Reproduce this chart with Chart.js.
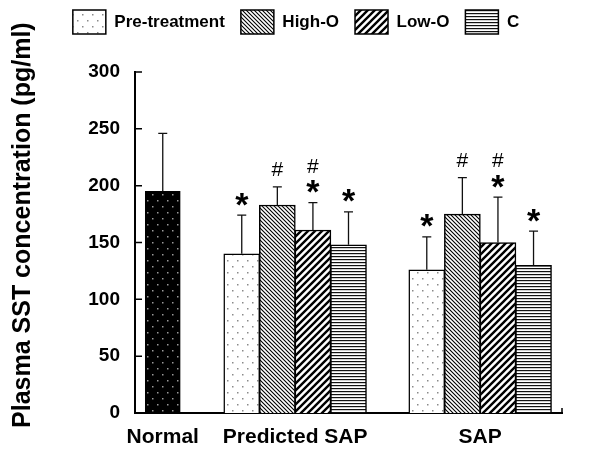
<!DOCTYPE html>
<html>
<head>
<meta charset="utf-8">
<script src="https://cdn.jsdelivr.net/npm/chart.js@4.4.1/dist/chart.umd.min.js"></script>
<style>
  html, body { margin: 0; padding: 0; background: #fff; }
</style>
</head>
<body>
<canvas id="sstChart" width="590" height="449"></canvas>
<script>
// groups on the x axis and where they sit on the (linear) x scale
const groupLabels = ['Normal', 'Predicted SAP', 'SAP'];
const groupPos = [0.78, 4.5, 9.7];

// Normal control
const normalMean = [195];
const normalSd = [51];

// treatment series, values for [Predicted SAP, SAP]
const seriesNames = ['Pre-treatment', 'High-O', 'Low-O', 'C'];
const meanPre = [140, 126];
const sdPre = [34, 29];
const meanHigh = [183, 175];
const sdHigh = [16, 32];
const meanLow = [161, 150];
const sdLow = [24, 40];
const meanC = [148, 130];
const sdC = [29, 30];

// significance marks ( * and # ) per series, per group
const starPre = [true, true];
const hashPre = [false, false];
const starHigh = [false, false];
const hashHigh = [true, true];
const starLow = [true, true];
const hashLow = [true, true];
const starC = [true, true];
const hashC = [false, false];

const yTicks = [0, 50, 100, 150, 200, 250, 300];

const canvas = document.getElementById('sstChart');
const ctx = canvas.getContext('2d');

// fill patterns
function makePattern(w, h, bg, paint) {
    const c = document.createElement('canvas');
    c.width = w;
    c.height = h;
    const g = c.getContext('2d');
    g.fillStyle = bg;
    g.fillRect(0, 0, w, h);
    paint(g);
    return ctx.createPattern(c, 'repeat');
}

const dotsDark = makePattern(10, 12, '#000', g => {
    g.fillStyle = '#9a9a9a';
    g.fillRect(2, 2, 1.5, 1.5);
    g.fillRect(7, 8, 1.5, 1.5);
});
const dotsLight = makePattern(10, 12, '#fff', g => {
    g.fillStyle = '#8a8a8a';
    g.fillRect(2, 2, 1.5, 1.5);
    g.fillRect(7, 8, 1.5, 1.5);
});
const backHatch = makePattern(4, 4, '#fff', g => {
    g.strokeStyle = '#000';
    g.lineWidth = 1.1;
    g.beginPath();
    g.moveTo(-1, -1); g.lineTo(5, 5);
    g.moveTo(-1, 3); g.lineTo(1, 5);
    g.moveTo(3, -1); g.lineTo(5, 1);
    g.stroke();
});
const fwdHatch = makePattern(7, 7, '#fff', g => {
    g.strokeStyle = '#000';
    g.lineWidth = 2.4;
    g.beginPath();
    g.moveTo(-1, 8); g.lineTo(8, -1);
    g.moveTo(-1, 1); g.lineTo(1, -1);
    g.moveTo(6, 8); g.lineTo(8, 6);
    g.stroke();
});
const horizLines = makePattern(4, 3, '#fff', g => {
    g.fillStyle = '#111';
    g.fillRect(0, 1, 4, 1.2);
});

const seriesMeans = [meanPre, meanHigh, meanLow, meanC];
const seriesSds = [sdPre, sdHigh, sdLow, sdC];
const seriesStars = [starPre, starHigh, starLow, starC];
const seriesHashes = [hashPre, hashHigh, hashLow, hashC];
const seriesFills = [dotsLight, backHatch, fwdHatch, horizLines];

// bar x = group centre, shifted by the series slot
function barX(groupIdx, seriesIdx) {
    return groupPos[groupIdx] - 1.5 + seriesIdx;
}

const datasets = [{
    label: 'Normal',
    data: normalMean.map(v => ({x: groupPos[0], y: v})),
    sd: normalSd,
    stars: [false],
    hashes: [false],
    backgroundColor: dotsDark,
    borderColor: '#000',
    borderWidth: 1.5,
    barThickness: 35
}];
seriesNames.forEach((name, s) => {
    datasets.push({
        label: name,
        data: seriesMeans[s].map((v, g) => ({x: barX(g + 1, s), y: v})),
        sd: seriesSds[s],
        stars: seriesStars[s],
        hashes: seriesHashes[s],
        backgroundColor: seriesFills[s],
        borderColor: '#000',
        borderWidth: 1.5,
        barThickness: 36
    });
});

// extra room under the legend, and centre it over the whole canvas
const legendGap = {
    id: 'legendGap',
    beforeInit(chart) {
        const fit = chart.legend.fit;
        chart.legend.fit = function () {
            fit.bind(chart.legend)();
            this.height += 28;
        };
    },
    afterLayout(chart) {
        chart.legend.left += 15;
        chart.legend.right += 15;
    }
};

// error bars, significance marks and inward axis ticks
const extras = {
    id: 'extras',
    afterDatasetsDraw(chart) {
        const c = chart.ctx;
        const yScale = chart.scales.y;
        const area = chart.chartArea;
        c.save();
        chart.data.datasets.forEach((ds, di) => {
            const meta = chart.getDatasetMeta(di);
            meta.data.forEach((bar, i) => {
                const top = yScale.getPixelForValue(ds.data[i].y + ds.sd[i]);
                c.strokeStyle = '#111';
                c.lineWidth = 1.3;
                c.beginPath();
                c.moveTo(bar.x, bar.y);
                c.lineTo(bar.x, top);
                c.moveTo(bar.x - 4.5, top);
                c.lineTo(bar.x + 4.5, top);
                c.stroke();

                c.fillStyle = '#000';
                c.textAlign = 'center';
                c.textBaseline = 'alphabetic';
                let hashY = top - 18;
                if (ds.stars[i]) {
                    c.font = 'bold 34px "Liberation Sans", Arial, sans-serif';
                    const m = c.measureText('*');
                    const cy = top - 16;
                    c.fillText('*', bar.x, cy - (m.actualBoundingBoxDescent - m.actualBoundingBoxAscent) / 2);
                    hashY = top - 37;
                }
                if (ds.hashes[i]) {
                    c.font = '21px "Liberation Sans", Arial, sans-serif';
                    const m = c.measureText('#');
                    c.fillText('#', bar.x, hashY - (m.actualBoundingBoxDescent - m.actualBoundingBoxAscent) / 2);
                }
            });
        });

        c.strokeStyle = '#000';
        c.lineWidth = 1.5;
        c.beginPath();
        yTicks.forEach(v => {
            const y = yScale.getPixelForValue(v);
            c.moveTo(area.left, y);
            c.lineTo(area.left + 7, y);
        });
        c.moveTo(area.right, area.bottom);
        c.lineTo(area.right, area.bottom - 5);
        c.stroke();
        c.restore();
    }
};

Chart.defaults.font.family = '"Liberation Sans", Arial, sans-serif';
Chart.defaults.color = '#000';

new Chart(ctx, {
    type: 'bar',
    data: {datasets: datasets},
    plugins: [legendGap, extras],
    options: {
        responsive: false,
        animation: false,
        layout: {padding: {top: -6, right: 28}},
        plugins: {
            tooltip: {enabled: false},
            legend: {
                position: 'top',
                labels: {
                    boxWidth: 33,
                    boxHeight: 24,
                    padding: 16,
                    font: {size: 17, weight: 'bold'},
                    filter: item => item.datasetIndex > 0
                }
            }
        },
        scales: {
            x: {
                type: 'linear',
                min: 0,
                max: 12,
                offset: false,
                grid: {display: false, drawTicks: false},
                border: {color: '#000', width: 2},
                afterBuildTicks: s => { s.ticks = groupPos.map(v => ({value: v})); },
                afterFit: s => { s.height = 36; },
                ticks: {
                    autoSkip: false,
                    maxRotation: 0,
                    padding: 12,
                    font: {size: 21, weight: 'bold'},
                    callback: (v, i) => groupLabels[i]
                }
            },
            y: {
                min: 0,
                max: 300,
                grid: {display: false, drawTicks: false},
                border: {color: '#000', width: 2},
                afterFit: s => { s.width = 135; },
                ticks: {
                    stepSize: 50,
                    padding: 15,
                    font: {size: 19, weight: 'bold'}
                },
                title: {
                    display: true,
                    text: '     Plasma SST concentration (pg/ml)',
                    font: {size: 25, weight: 'bold'},
                    padding: {top: 8, bottom: 0}
                }
            }
        },
        datasets: {bar: {grouped: false}}
    }
});
</script>
</body>
</html>
